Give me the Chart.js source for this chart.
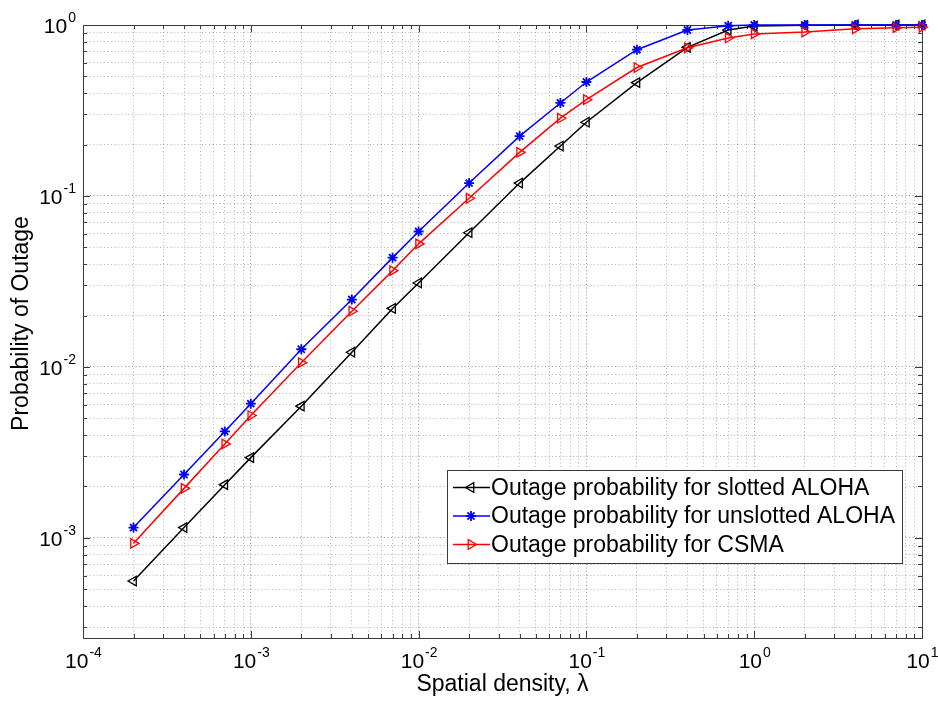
<!DOCTYPE html>
<html>
<head>
<meta charset="utf-8">
<script src="https://cdn.jsdelivr.net/npm/chart.js@4.4.1/dist/chart.umd.min.js"></script>
<style>
    body { margin: 0; background: #fff; }
    #wrap { width: 938px; height: 710px; }
</style>
</head>
<body>
<div id="wrap"><canvas id="outageChart" width="938" height="710"></canvas></div>
<script>
// Spatial density (x values)
const densities = [2e-4, 4e-4, 7e-4, 1e-3, 2e-3, 4e-3, 7e-3, 1e-2, 2e-2, 4e-2, 7e-2, 0.1, 0.2, 0.4, 0.7, 1, 2, 4, 7, 10];

// Outage probability
const slottedAloha = [5.6e-4, 1.15e-3, 2.05e-3, 2.95e-3, 5.9e-3, 1.22e-2, 2.2e-2, 3.1e-2, 6.1e-2, 0.119, 0.196, 0.27, 0.46, 0.74, 0.935, 0.985, 0.995, 1.0, 1.0, 1.0];
const unslottedAloha = [1.15e-3, 2.35e-3, 4.2e-3, 6.1e-3, 1.27e-2, 2.48e-2, 4.36e-2, 6.2e-2, 0.119, 0.224, 0.35, 0.464, 0.717, 0.935, 0.99, 1.0, 1.0, 1.0, 1.0, 1.0];
const csma = [0.93e-3, 1.95e-3, 3.55e-3, 5.2e-3, 1.06e-2, 2.12e-2, 3.66e-2, 5.25e-2, 0.097, 0.18, 0.285, 0.366, 0.564, 0.736, 0.84, 0.887, 0.91, 0.95, 0.965, 0.97];

const seriesLabels = [
    "Outage probability for slotted ALOHA",
    "Outage probability for unslotted ALOHA",
    "Outage probability for CSMA"
];

// decade tick labels (exponents of 10)
const xTickExps = [-4, -3, -2, -1, 0, 1];
const yTickExps = [-3, -2, -1, 0];

const xMin = 1e-4, xMax = 10;
const yMin = 2.6e-4, yMax = 1;

const FONT = "'Liberation Sans', Arial, Helvetica, sans-serif";

// 1..9 x 10^n grid positions for a log axis
function logGridTicks(min, max) {
    let ticks = [];
    for (let e = Math.floor(Math.log10(min)); e <= Math.ceil(Math.log10(max)); e++) {
        for (let m = 1; m < 10; m++) {
            let v = m * Math.pow(10, e);
            if (v >= min * 0.999 && v <= max * 1.001) ticks.push({ value: v, major: m === 1 });
        }
    }
    return ticks;
}

function toXY(ys) {
    return densities.map((x, i) => ({ x: x, y: ys[i] }));
}

// draw one marker (used for the legend samples)
function drawMarker(ctx, style, rotation, radius, x, y) {
    if (Chart.helpers && Chart.helpers.drawPoint) {
        Chart.helpers.drawPoint(ctx, { pointStyle: style, rotation: rotation, radius: radius, borderWidth: ctx.lineWidth }, x, y);
    }
}

const axesPlugin = {
    id: "matlabAxes",
    beforeDatasetsDraw(chart) {
        let ctx = chart.ctx;
        let area = chart.chartArea;
        let xs = chart.scales.x, ys = chart.scales.y;
        ctx.save();
        ctx.strokeStyle = "#3a3a3a";
        ctx.lineWidth = 1;
        ctx.setLineDash([]);
        ctx.beginPath();
        // inward tick marks on all four sides
        logGridTicks(xMin, xMax).forEach(t => {
            let px = Math.round(xs.getPixelForValue(t.value)) + 0.5;
            let len = t.major ? 7 : 4;
            ctx.moveTo(px, area.bottom); ctx.lineTo(px, area.bottom - len);
            ctx.moveTo(px, area.top); ctx.lineTo(px, area.top + len);
        });
        logGridTicks(yMin, yMax).forEach(t => {
            let py = Math.round(ys.getPixelForValue(t.value)) + 0.5;
            let len = t.major ? 7 : 4;
            ctx.moveTo(area.left, py); ctx.lineTo(area.left + len, py);
            ctx.moveTo(area.right, py); ctx.lineTo(area.right - len, py);
        });
        ctx.stroke();
        ctx.strokeRect(Math.round(area.left) + 0.5, Math.round(area.top) + 0.5,
            Math.round(area.right - area.left), Math.round(area.bottom - area.top));
        ctx.restore();
    },
    afterDraw(chart) {
        let ctx = chart.ctx;
        let area = chart.chartArea;
        let xs = chart.scales.x, ys = chart.scales.y;
        ctx.save();
        ctx.fillStyle = "#000";

        // tick labels as 10 with superscript exponent
        let baseFont = "21px " + FONT;
        let expFont = "14px " + FONT;
        xTickExps.forEach(e => {
            let px = xs.getPixelForValue(Math.pow(10, e));
            ctx.font = baseFont;
            let w1 = ctx.measureText("10").width;
            ctx.font = expFont;
            let w2 = ctx.measureText(String(e)).width;
            let left = px - (w1 + w2) / 2;
            ctx.textAlign = "left";
            ctx.textBaseline = "alphabetic";
            ctx.font = baseFont;
            ctx.fillText("10", left, area.bottom + 30);
            ctx.font = expFont;
            ctx.fillText(String(e), left + w1 + 1, area.bottom + 19);
        });
        yTickExps.forEach(e => {
            let py = ys.getPixelForValue(Math.pow(10, e));
            ctx.font = expFont;
            let w2 = ctx.measureText(String(e)).width;
            ctx.font = baseFont;
            let w1 = ctx.measureText("10").width;
            let right = area.left - 7;
            ctx.textAlign = "left";
            ctx.textBaseline = "alphabetic";
            ctx.fillText("10", right - w2 - 1 - w1, py + 8);
            ctx.font = expFont;
            ctx.fillText(String(e), right - w2, py - 3);
        });

        // axis titles
        ctx.font = "23px " + FONT;
        ctx.textAlign = "center";
        ctx.textBaseline = "middle";
        ctx.fillText("Spatial density, \u03bb", (area.left + area.right) / 2, area.bottom + 47);
        ctx.save();
        ctx.translate(22, (area.top + area.bottom) / 2 - 8);
        ctx.rotate(-Math.PI / 2);
        ctx.fillText("Probability of Outage", 0, 0);
        ctx.restore();

        // legend box in lower right of the axes
        let ds = chart.data.datasets;
        let order = [0, 1, 2];
        ctx.font = "23px " + FONT;
        let textW = Math.max(...order.map(i => ctx.measureText(ds[i].label).width));
        let boxW = 44 + textW + 7;
        let rowH = 28.5;
        let boxH = rowH * 3 + 7;
        let boxR = area.right - 20;
        let boxB = area.bottom - 76;
        let boxL = boxR - boxW, boxT = boxB - boxH;
        ctx.fillStyle = "#fff";
        ctx.fillRect(boxL, boxT, boxW, boxH);
        ctx.strokeStyle = "#3a3a3a";
        ctx.lineWidth = 1;
        ctx.strokeRect(Math.round(boxL) + 0.5, Math.round(boxT) + 0.5, Math.round(boxW), Math.round(boxH));
        order.forEach((i, k) => {
            let d = ds[i];
            let cy = boxT + 18 + k * rowH;
            ctx.strokeStyle = d.borderColor;
            ctx.lineWidth = 1.5;
            ctx.beginPath();
            ctx.moveTo(boxL + 6, cy);
            ctx.lineTo(boxL + 43, cy);
            ctx.stroke();
            ctx.fillStyle = d.pointBackgroundColor;
            ctx.lineWidth = d.pointBorderWidth;
            drawMarker(ctx, d.pointStyle, d.pointRotation, d.pointRadius, boxL + 24, cy);
            ctx.fillStyle = "#000";
            ctx.textAlign = "left";
            ctx.textBaseline = "middle";
            ctx.fillText(d.label, boxL + 44, cy + 1);
        });
        ctx.restore();
    }
};

const gridColor = c => c.tick && c.tick.major ? "rgba(60,60,60,0.55)" : "rgba(90,90,90,0.45)";

new Chart(document.getElementById("outageChart").getContext("2d"), {
    type: "line",
    data: {
        datasets: [
            {
                label: seriesLabels[0],
                data: toXY(slottedAloha),
                borderColor: "#000000",
                borderWidth: 1.5,
                pointStyle: "triangle",
                pointRotation: -90,
                pointRadius: 5.5,
                pointBorderWidth: 1.3,
                pointBackgroundColor: "rgba(0,0,0,0)",
                pointBorderColor: "#000000",
                order: 3
            },
            {
                label: seriesLabels[1],
                data: toXY(unslottedAloha),
                borderColor: "#0000ff",
                borderWidth: 1.5,
                pointStyle: "star",
                pointRotation: 0,
                pointRadius: 5,
                pointBorderWidth: 1.8,
                pointBackgroundColor: "#0000ff",
                pointBorderColor: "#0000ff",
                order: 2
            },
            {
                label: seriesLabels[2],
                data: toXY(csma),
                borderColor: "#ff0000",
                borderWidth: 1.5,
                pointStyle: "triangle",
                pointRotation: 90,
                pointRadius: 5.5,
                pointBorderWidth: 1.3,
                pointBackgroundColor: "rgba(0,0,0,0)",
                pointBorderColor: "#ff0000",
                order: 1
            }
        ]
    },
    options: {
        responsive: false,
        animation: false,
        clip: false,
        layout: { padding: { left: 83, top: 25, right: 16, bottom: 72 } },
        plugins: {
            legend: { display: false },
            tooltip: { enabled: false }
        },
        scales: {
            x: {
                type: "logarithmic",
                min: xMin,
                max: xMax,
                afterBuildTicks: scale => { scale.ticks = logGridTicks(xMin, xMax); },
                ticks: { display: false, autoSkip: false },
                grid: { color: gridColor, lineWidth: 1, drawTicks: false },
                border: { display: false, dash: [1, 2.5] }
            },
            y: {
                type: "logarithmic",
                min: yMin,
                max: yMax,
                afterBuildTicks: scale => { scale.ticks = logGridTicks(yMin, yMax); },
                ticks: { display: false, autoSkip: false },
                grid: { color: gridColor, lineWidth: 1, drawTicks: false },
                border: { display: false, dash: [1, 2.5] }
            }
        }
    },
    plugins: [axesPlugin]
});
</script>
</body>
</html>
